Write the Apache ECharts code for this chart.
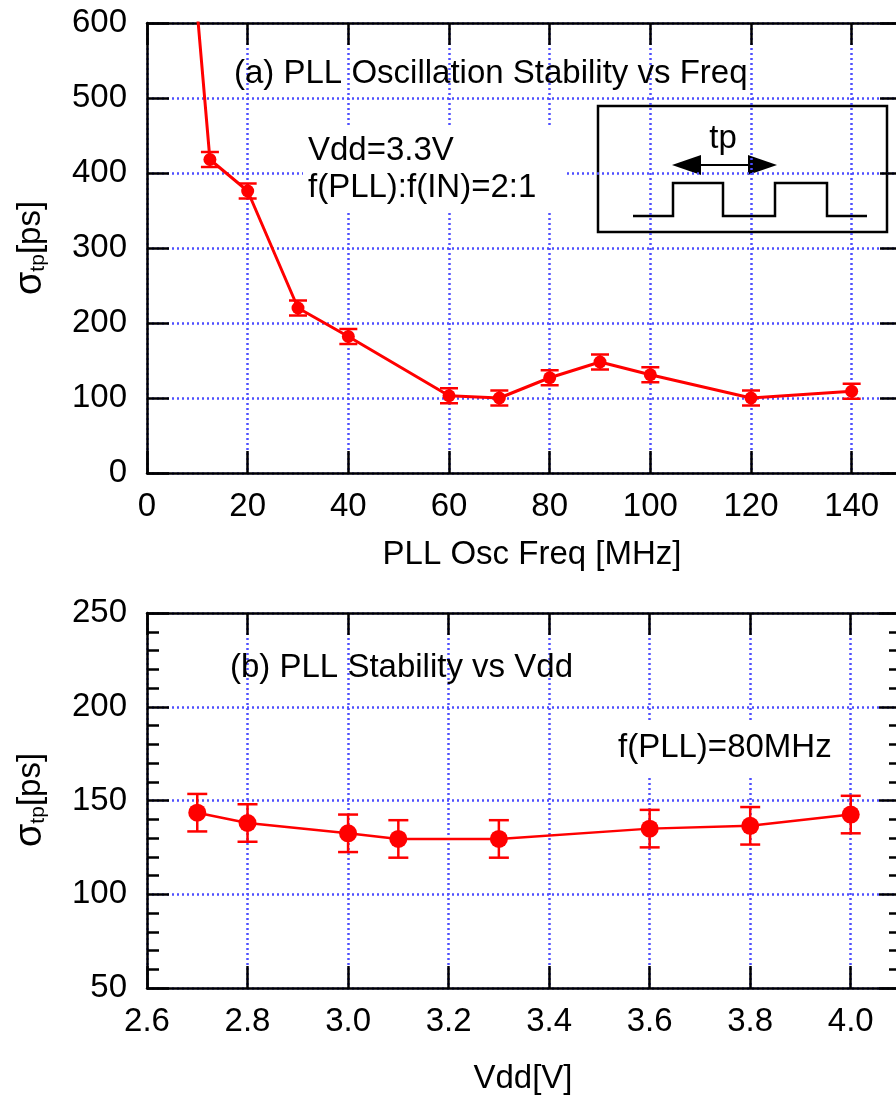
<!DOCTYPE html>
<html>
<head>
<meta charset="utf-8">
<script src="https://cdn.jsdelivr.net/npm/echarts@6/dist/echarts.min.js"></script>
<style>
  html, body { margin: 0; padding: 0; background: #fff; overflow: hidden; }
  #chart { width: 910px; height: 1099px; }
</style>
</head>
<body>
<div id="chart"></div>
<script>
// (a) jitter vs PLL oscillation frequency, Vdd = 3.3V
const freqMHz = [8, 12.5, 20, 30, 40, 60, 70, 80, 90, 100, 120, 140]
const sigmaFreq = [770, 418, 376, 220, 182, 103, 100, 127, 148, 131, 100, 109]
const errFreq = [10, 10, 10, 10, 10, 10, 10, 10, 10, 10, 10, 10]
const freqTicks = [0, 20, 40, 60, 80, 100, 120, 140]
const sigmaTicksA = [0, 100, 200, 300, 400, 500, 600]

// (b) jitter vs supply voltage, f(PLL) = 80MHz
const vddV = [2.7, 2.8, 3.0, 3.1, 3.3, 3.6, 3.8, 4.0]
const sigmaVdd = [143.5, 138, 132.5, 129.5, 129.5, 135, 136.5, 142.5]
const errVdd = [10, 10, 10, 10, 10, 10, 10, 10]
const vddTicks = ['2.6', '2.8', '3.0', '3.2', '3.4', '3.6', '3.8', '4.0']
const sigmaTicksB = [50, 100, 150, 200, 250]

const FONT = "'Liberation Sans', Arial, Helvetica, sans-serif"
const FS = 33
const RED = '#ff0000'
const gridLine = { show: true, lineStyle: { color: '#4f4fff', width: 2.5, type: [2, 3] } }
const black = { color: '#000', width: 2.5 }

function errorBars(gridIdx, data, capW, lw) {
  return {
    type: 'custom',
    xAxisIndex: gridIdx * 2,
    yAxisIndex: gridIdx * 2,
    clip: true,
    z: 3,
    renderItem(params, api) {
      const x = api.value(0), y = api.value(1), e = api.value(2)
      const hi = api.coord([x, y + e])
      const lo = api.coord([x, y - e])
      const st = { stroke: RED, lineWidth: lw }
      return {
        type: 'group',
        children: [
          { type: 'line', shape: { x1: hi[0], y1: hi[1], x2: lo[0], y2: lo[1] }, style: st },
          { type: 'line', shape: { x1: hi[0] - capW, y1: hi[1], x2: hi[0] + capW, y2: hi[1] }, style: st },
          { type: 'line', shape: { x1: lo[0] - capW, y1: lo[1], x2: lo[0] + capW, y2: lo[1] }, style: st }
        ]
      }
    },
    data
  }
}

function valueAxis(opts) {
  return Object.assign({
    type: 'value',
    axisLine: { show: true, onZero: false, lineStyle: black },
    axisTick: { show: true, inside: true, length: 22, lineStyle: { color: '#000', width: 2.5 } },
    axisLabel: { show: false },
    splitLine: { show: false }
  }, opts)
}

function label(text, x, y, extra) {
  return {
    type: 'text', x, y, z: 20,
    style: Object.assign({
      text, font: FS + 'px ' + FONT, fill: '#000',
      align: 'left', verticalAlign: 'middle',
      textAlign: 'left', textVerticalAlign: 'middle'
    }, extra || {})
  }
}

function sigmaName(x, y) {
  return {
    type: 'text', x, y, rotation: Math.PI / 2, z: 20,
    style: {
      text: '{s|σ}{t|tp}{p|[ps]}',
      align: 'center', verticalAlign: 'middle',
      textAlign: 'center', textVerticalAlign: 'middle',
      rich: {
        s: { fontSize: 38, fontFamily: FONT, fill: '#000', lineHeight: 40, verticalAlign: 'middle' },
        t: { fontSize: 21, fontFamily: FONT, fill: '#000', lineHeight: 40, verticalAlign: 'bottom', padding: [0, 0, 2, 0] },
        p: { fontSize: 33, fontFamily: FONT, fill: '#000', lineHeight: 40, verticalAlign: 'middle' }
      }
    }
  }
}

const myChart = echarts.init(document.getElementById('chart'), null, { renderer: 'canvas' })

const tickLabel = fmt => ({
  show: true, fontSize: FS, color: '#000', fontFamily: FONT, formatter: fmt
})

const option = {
  animation: false,
  backgroundColor: '#fff',
  textStyle: { fontFamily: FONT },
  grid: [
    { left: 147, top: 23, width: 755, height: 450 },
    { left: 147, top: 613, width: 754, height: 375 }
  ],
  xAxis: [
    valueAxis({
      gridIndex: 0, position: 'bottom', min: 0, max: 150, interval: 20,
      axisLabel: Object.assign(tickLabel(v => freqTicks.includes(v) ? String(v) : ''), { margin: 17 }),
      splitLine: gridLine
    }),
    valueAxis({ gridIndex: 0, position: 'top', min: 0, max: 150, interval: 20 }),
    valueAxis({
      gridIndex: 1, position: 'bottom', min: 2.6, max: 4.1, interval: 0.2,
      axisLabel: Object.assign(tickLabel(v => vddTicks.includes(v.toFixed(1)) ? v.toFixed(1) : ''), { margin: 17 }),
      splitLine: gridLine
    }),
    valueAxis({ gridIndex: 1, position: 'top', min: 2.6, max: 4.1, interval: 0.2 })
  ],
  yAxis: [
    valueAxis({
      gridIndex: 0, position: 'left', min: 0, max: 600, interval: 100,
      axisLabel: Object.assign(tickLabel(v => sigmaTicksA.includes(v) ? String(v) : ''), { margin: 20 }),
      splitLine: gridLine
    }),
    valueAxis({ gridIndex: 0, position: 'right', min: 0, max: 600, interval: 100 }),
    valueAxis({
      gridIndex: 1, position: 'left', min: 50, max: 250, interval: 50,
      minorTick: { show: true, splitNumber: 5, length: 12, lineStyle: { color: '#000', width: 2.5 } },
      axisLabel: Object.assign(tickLabel(v => sigmaTicksB.includes(v) ? String(v) : ''), { margin: 20 }),
      splitLine: gridLine
    }),
    valueAxis({
      gridIndex: 1, position: 'right', min: 50, max: 250, interval: 50,
      minorTick: { show: true, splitNumber: 5, length: 12, lineStyle: { color: '#000', width: 2.5 } }
    })
  ],
  series: [
    errorBars(0, freqMHz.map((f, i) => [f, sigmaFreq[i], errFreq[i]]), 9, 2.5),
    {
      type: 'line',
      xAxisIndex: 0, yAxisIndex: 0,
      data: freqMHz.map((f, i) => [f, sigmaFreq[i]]),
      symbol: 'circle', symbolSize: 13,
      itemStyle: { color: RED },
      lineStyle: { color: RED, width: 3 },
      z: 4
    },
    errorBars(1, vddV.map((v, i) => [v, sigmaVdd[i], errVdd[i]]), 10, 2.5),
    {
      type: 'line',
      xAxisIndex: 2, yAxisIndex: 2,
      data: vddV.map((v, i) => [v, sigmaVdd[i]]),
      symbol: 'circle', symbolSize: 18,
      itemStyle: { color: RED },
      lineStyle: { color: RED, width: 2.5 },
      z: 4
    }
  ],
  graphic: [
    // axis names
    label('PLL Osc Freq [MHz]', 532, 555, { align: 'center', textAlign: 'center' }),
    label('Vdd[V]', 523, 1079, { align: 'center', textAlign: 'center' }),
    sigmaName(31, 248),
    sigmaName(31, 800),
    // panel (a) notes
    label('(a) PLL Oscillation Stability vs Freq', 234, 74),
    label('Vdd=3.3V\nf(PLL):f(IN)=2:1', 303, 169, {
      lineHeight: 37, backgroundColor: '#fff', padding: [5, 30, 8, 5]
    }),
    // inset pulse sketch
    {
      type: 'group', z: 20,
      children: [
        { type: 'rect', shape: { x: 598, y: 106, width: 289, height: 126 }, style: { fill: '#fff', stroke: '#000', lineWidth: 2.5 } },
        { type: 'polyline', shape: { points: [[633, 216], [673, 216], [673, 183], [723, 183], [723, 216], [775, 216], [775, 183], [827, 183], [827, 216], [867, 216]] }, style: { fill: null, stroke: '#000', lineWidth: 2.5 } },
        { type: 'line', shape: { x1: 690, y1: 165, x2: 760, y2: 165 }, style: { stroke: '#000', lineWidth: 2 } },
        { type: 'polygon', shape: { points: [[672, 165], [701, 155], [701, 175]] }, style: { fill: '#000' } },
        { type: 'polygon', shape: { points: [[777, 165], [748, 155], [748, 175]] }, style: { fill: '#000' } }
      ]
    },
    label('tp', 723, 139, { align: 'center', textAlign: 'center', z: 21 }),
    // panel (b) notes
    label('(b) PLL Stability vs Vdd', 230, 668),
    label('f(PLL)=80MHz', 612, 748, { backgroundColor: '#fff', padding: [12, 6, 10, 6] })
  ]
}

myChart.setOption(option)
window.addEventListener('resize', () => {
  if (myChart) myChart.resize()
})
</script>
</body>
</html>
